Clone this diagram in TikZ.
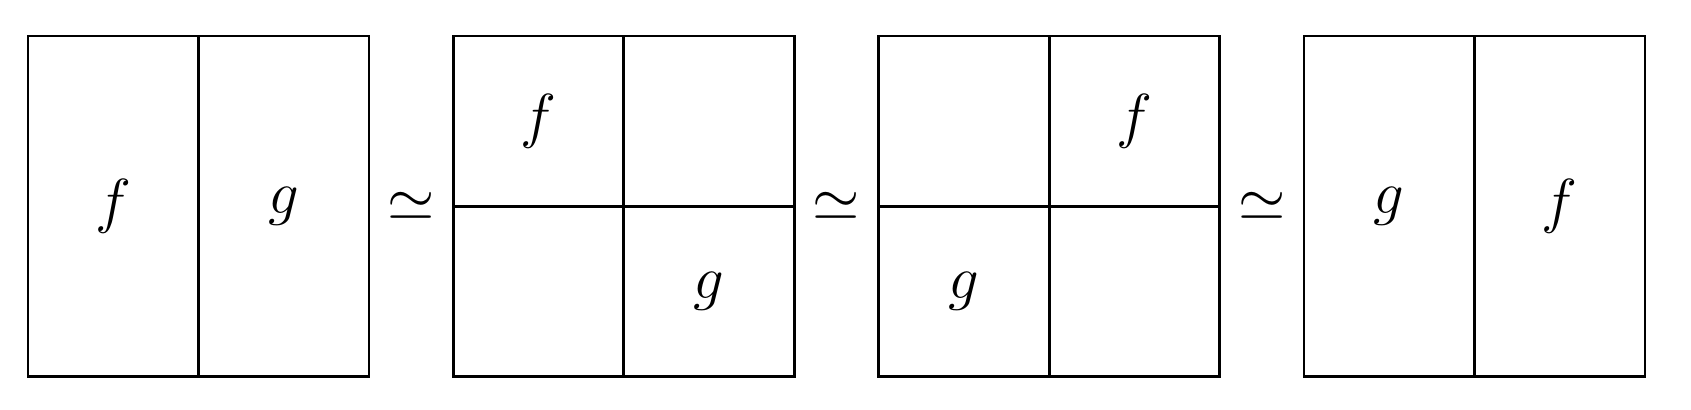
\documentclass[tikz,border=0pt]{standalone}
\begin{document}
\begin{tikzpicture}[x=0.01cm,y=-0.01cm,
  frame/.style={line width=0.75pt},
  lbl/.style={inner sep=0pt,font=\LARGE},
  rel/.style={inner sep=0pt,font=\LARGE}]
\useasboundingbox (0,0) rectangle (1691,410);
% box 1
\draw[frame] (28,36) rectangle (369,376.5);
\draw[frame] (198.5,36) -- (198.5,376.5);
\node[lbl] (b1f) at (113.3,206.3) {$f$};
\node[lbl] (b1g) at (283.8,206.3) {$g$};
\node[rel] (s1) at (411.2,206.3) {$\simeq$};
% box 2
\draw[frame] (453.3,36) rectangle (794.3,376.5);
\draw[frame] (623.8,36) -- (623.8,376.5);
\draw[frame] (453.3,206.3) -- (794.3,206.3);
\node[lbl] (b2f) at (538.6,121.2) {$f$};
\node[lbl] (b2g) at (709.1,291.4) {$g$};
\node[rel] (s2) at (836.5,206.3) {$\simeq$};
% box 3
\draw[frame] (878.7,36) rectangle (1219.7,376.5);
\draw[frame] (1049.2,36) -- (1049.2,376.5);
\draw[frame] (878.7,206.3) -- (1219.7,206.3);
\node[lbl] (b3f) at (1134.5,121.2) {$f$};
\node[lbl] (b3g) at (964,291.4) {$g$};
\node[rel] (s3) at (1261.8,206.3) {$\simeq$};
% box 4
\draw[frame] (1304,36) rectangle (1645,376.5);
\draw[frame] (1474.5,36) -- (1474.5,376.5);
\node[lbl] (b4g) at (1389.3,206.3) {$g$};
\node[lbl] (b4f) at (1559.8,206.3) {$f$};
\end{tikzpicture}
\end{document}
